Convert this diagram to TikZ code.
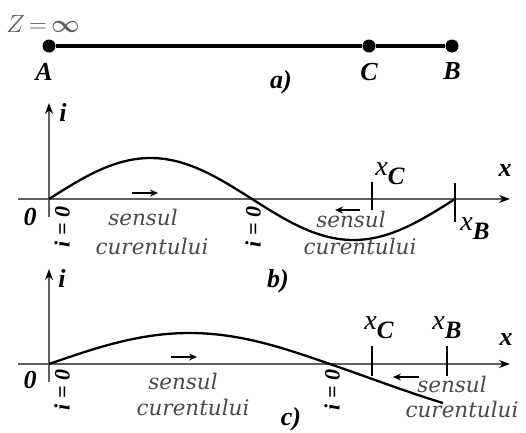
\documentclass[tikz,border=0pt]{standalone}
\usepackage{amsmath}
\usepackage{fontspec}
\setmainfont{Liberation Serif}
\newfontfamily\sensfont{DejaVu Serif}
\usepackage{tikz}
\usetikzlibrary{positioning,arrows.meta}
\definecolor{axisGray}{HTML}{606060}
\definecolor{textGray}{HTML}{4A4A4A}

\begin{document}
\begin{tikzpicture}[x=1pt,y=-1pt,
      lbl/.style={inner sep=0pt,font=\fontsize{26}{26}\selectfont\bfseries\itshape},
      izero/.style={lbl,rotate=90,font=\fontsize{22}{22}\selectfont\bfseries\itshape},
      sens/.style={inner sep=0pt,text=textGray,font=\fontsize{21.5}{21.5}\selectfont\sensfont\itshape},
      dot/.style={circle,fill=black,inner sep=0pt,minimum size=13pt},
      wire/.style={line width=3.6pt},
      axis/.style={draw=axisGray,line width=1.3pt,-{Stealth[length=11pt,width=8pt,black]}},
      tick/.style={line width=1.1pt},
      curve/.style={line width=2.3pt},
      flow/.style={line width=1.2pt,-{Stealth[length=8pt,width=7pt]}}
    ]
    \useasboundingbox (0,0) rectangle (526,432);

    % a) line A--C--B
    \node[text=axisGray,inner sep=0pt] (Z) at (43,24) {\fontsize{23}{23}\selectfont$Z\,{=}\,\boldsymbol{\infty}$};
    \node[dot] (A) at (49,46) {};
    \node[dot] (C) at (369,46) {};
    \node[dot] (B) at (452,46) {};
    \draw[wire] (A) -- (C) -- (B);
    \node[lbl,below=10pt of A,xshift=-5pt] (labA) {A};
    \node[lbl,below=10pt of C] (labC) {C};
    \node[lbl,below=10pt of B] (labB) {B};
    \node[lbl] (capA) at (281,82) {a)};

    % b) open line
    \coordinate (bL) at (18,199);
    \coordinate (bR) at (510,199);
    \coordinate (bD) at (49,217);
    \coordinate (bU) at (49,103);
    \draw[axis] (bL) -- (bR);
    \draw[axis] (bD) -- (bU);
    \node[lbl] (ib) at (63,112) {i};
    \node[lbl] (xb) at (505,171) {x};
    \node[lbl] (zb) at (30,217) {0};
    \draw[curve] plot[domain=0:360,samples=73,smooth] ({49+1.127778*\x},{199-41*sin(\x)});
    \coordinate (tCb1) at (372,182);
    \coordinate (tCb2) at (372,210);
    \coordinate (tBb1) at (455,183);
    \coordinate (tBb2) at (455,222);
    \draw[tick] (tCb1) -- (tCb2);
    \draw[tick] (tBb1) -- (tBb2);
    \node[inner sep=0pt] (xCb) at (390,174) {\fontsize{28}{28}\selectfont\itshape x\raisebox{-9pt}{\fontsize{25}{25}\selectfont\bfseries C}};
    \node[inner sep=0pt] (xBb) at (475,229) {\fontsize{28}{28}\selectfont\itshape x\raisebox{-9pt}{\fontsize{25}{25}\selectfont\bfseries B}};
    \node[izero] (i0b1) at (62,227) {i = 0};
    \node[izero] (i0b2) at (253,227) {i = 0};
    \coordinate (fb1s) at (132,193);
    \coordinate (fb1e) at (158,193);
    \draw[flow] (fb1s) -- (fb1e);
    \node[sens] (sb1) at (143,217) {sensul};
    \node[sens] (cb1) at (152,246) {curentului};
    \coordinate (fb2s) at (360,210);
    \coordinate (fb2e) at (335,210);
    \draw[flow] (fb2s) -- (fb2e);
    \node[sens] (sb2) at (351,219) {sensul};
    \node[sens] (cb2) at (360,246) {curentului};
    \node[lbl] (capB) at (278,281) {b)};

    % c) short-circuited line
    \coordinate (cL) at (18,364);
    \coordinate (cR) at (510,364);
    \coordinate (cD) at (49,382);
    \coordinate (cU) at (49,269);
    \draw[axis] (cL) -- (cR);
    \draw[axis] (cD) -- (cU);
    \node[lbl] (ic) at (62,278) {i};
    \node[lbl] (xc) at (506,340) {x};
    \node[lbl] (zc) at (30,380) {0};
    \draw[curve] plot[domain=0:180,samples=37,smooth] ({49+1.561111*\x},{364-31*sin(\x)})
      .. controls (370,378) and (410,393) .. (443,403);
    \coordinate (tCc1) at (372,346);
    \coordinate (tCc2) at (372,376);
    \coordinate (tBc1) at (447,346);
    \coordinate (tBc2) at (447,376);
    \draw[tick] (tCc1) -- (tCc2);
    \draw[tick] (tBc1) -- (tBc2);
    \node[inner sep=0pt] (xCc) at (379,328) {\fontsize{28}{28}\selectfont\itshape x\raisebox{-9pt}{\fontsize{25}{25}\selectfont\bfseries C}};
    \node[inner sep=0pt] (xBc) at (447,328) {\fontsize{28}{28}\selectfont\itshape x\raisebox{-9pt}{\fontsize{25}{25}\selectfont\bfseries B}};
    \node[izero] (i0c1) at (62,390) {i = 0};
    \node[izero] (i0c2) at (332,390) {i = 0};
    \coordinate (fc1s) at (171,357);
    \coordinate (fc1e) at (197,357);
    \draw[flow] (fc1s) -- (fc1e);
    \node[sens] (sc1) at (183,381) {sensul};
    \node[sens] (cc1) at (193,407) {curentului};
    \coordinate (fc2s) at (419,377);
    \coordinate (fc2e) at (393,377);
    \draw[flow] (fc2s) -- (fc2e);
    \node[sens] (sc2) at (452,384) {sensul};
    \node[sens] (cc2) at (462,409) {curentului};
    \node[lbl] (capC) at (291,419) {c)};
  \end{tikzpicture}
\end{document}
